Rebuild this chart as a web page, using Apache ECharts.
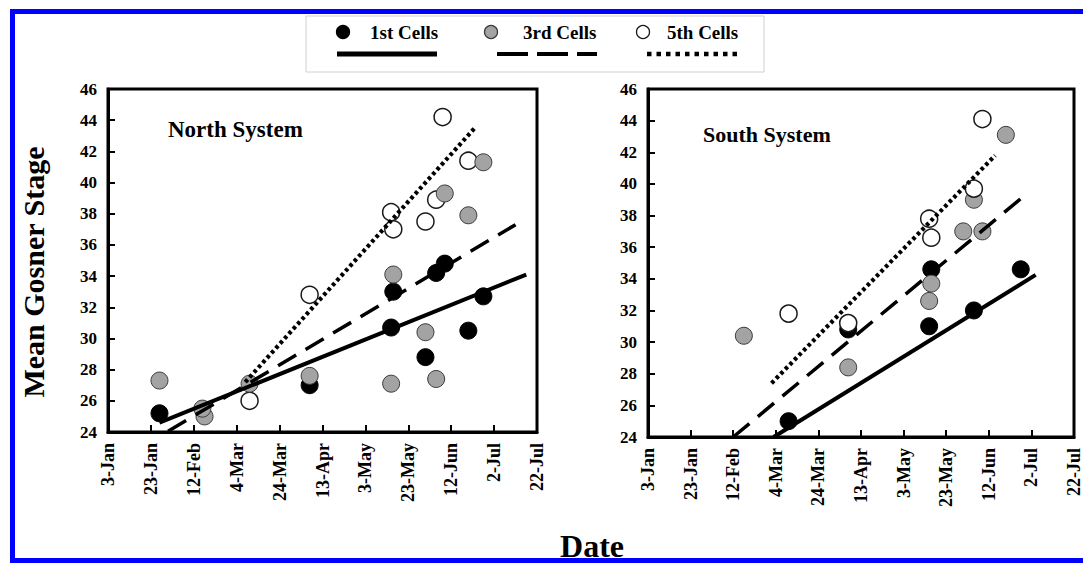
<!DOCTYPE html>
<html>
<head>
<meta charset="utf-8">
<script src="https://cdn.jsdelivr.net/npm/echarts@6/dist/echarts.min.js"></script>
<style>html,body{margin:0;padding:0;background:#fff;}#c{width:1083px;height:563px;}</style>
</head>
<body>
<div id="c"></div>
<script>
// ---- data ----
const tickLabels = ['3-Jan','23-Jan','12-Feb','4-Mar','24-Mar','13-Apr','3-May','23-May','12-Jun','2-Jul','22-Jul'];
const yTicks = { min: 24, max: 46, step: 2 };
const seriesNames = ['1st Cells', '3rd Cells', '5th Cells'];
const panelTitles = ['North System', 'South System'];
const yTitle = 'Mean Gosner Stage';
const xTitle = 'Date';

const northFirst = [['27-Jan',25.2],['7-Apr',27.0],['16-May',33.0],['15-May',30.7],['31-May',28.8],['5-Jun',34.2],['9-Jun',34.8],['20-Jun',30.5],['27-Jun',32.7]];
const northThird = [['27-Jan',27.3],['17-Feb',25.0],['16-Feb',25.5],['10-Mar',27.1],['7-Apr',27.6],['16-May',34.1],['15-May',27.1],['31-May',30.4],['5-Jun',27.4],['9-Jun',39.3],['20-Jun',37.9],['27-Jun',41.3]];
const northFifth = [['10-Mar',26.0],['7-Apr',32.8],['15-May',38.1],['16-May',37.0],['31-May',37.5],['5-Jun',38.9],['8-Jun',44.2],['20-Jun',41.4]];
const northFirstFit = [['27-Jan',24.6],['17-Jul',34.1]];
const northThirdFit = [['31-Jan',24.05],['12-Jul',37.3]];
const northFifthFit = [['8-Mar',27.2],['23-Jun',43.5]];

const southFirst = [['10-Mar',25.0],['7-Apr',30.8],['15-May',31.0],['16-May',34.6],['5-Jun',32.0],['27-Jun',34.6]];
const southThird = [['17-Feb',30.4],['7-Apr',28.4],['15-May',32.6],['16-May',33.7],['31-May',37.0],['5-Jun',39.0],['9-Jun',37.0],['20-Jun',43.1]];
const southFifth = [['10-Mar',31.8],['7-Apr',31.2],['15-May',37.8],['16-May',36.6],['5-Jun',39.7],['9-Jun',44.1]];
const southFirstFit = [['3-Mar',24.0],['4-Jul',34.25]];
const southThirdFit = [['12-Feb',24.0],['30-Jun',39.4]];
const southFifthFit = [['2-Mar',27.4],['15-Jun',41.8]];

// ---- helpers ----
const monthStart = {Jan:0,Feb:31,Mar:59,Apr:90,May:120,Jun:151,Jul:181};
function dayOf(s){ const p = s.split('-'); return monthStart[p[1]] + Number(p[0]) - 3; }
function toXY(arr){ return arr.map(d => [dayOf(d[0]), d[1]]); }

const FONT = '"Liberation Serif", "Times New Roman", serif';
const styles = [
  {color:'#000000', borderColor:'#000000', borderWidth:1, opacity:1},
  {color:'#a3a3a3', borderColor:'#3a3a3a', borderWidth:1, opacity:1},
  {color:'#ffffff', borderColor:'#1a1a1a', borderWidth:1.5, opacity:1}
];
const lineStyles = [
  {color:'#000', width:4, type:'solid', cap:'butt'},
  {color:'#000', width:3.5, type:[21,11], cap:'butt'},
  {color:'#000', width:4.2, type:[3.5,3], cap:'butt'}
];

function scatter(name, data, idx, style, z){
  return {name, type:'scatter', xAxisIndex:idx, yAxisIndex:idx, data:toXY(data),
    symbol:'circle', symbolSize:17, itemStyle:style, z:z, silent:true, animation:false};
}
function fit(name, data, idx, ls){
  return {name, type:'line', xAxisIndex:idx, yAxisIndex:idx, data:toXY(data),
    showSymbol:false, symbol:'none', lineStyle:ls, z:10, silent:true, animation:false};
}
function xAxis(idx){
  return {gridIndex:idx, type:'value', min:0, max:200, interval:20,
    axisLine:{show:true, onZero:false, lineStyle:{color:'#000', width:3}},
    axisTick:{show:true, inside:true, length:7, lineStyle:{color:'#000', width:2}},
    axisLabel:{rotate:90, margin:11, color:'#000', fontFamily:FONT, fontWeight:'bold', fontSize:18,
      formatter: v => tickLabels[Math.round(v/20)] || ''},
    splitLine:{show:false}};
}
function yAxis(idx){
  return {gridIndex:idx, type:'value', min:yTicks.min, max:yTicks.max, interval:yTicks.step,
    axisLine:{show:true, onZero:false, lineStyle:{color:'#000', width:3}},
    axisTick:{show:true, inside:true, length:7, lineStyle:{color:'#000', width:2}},
    axisLabel:{margin:11, color:'#000', fontFamily:FONT, fontWeight:'bold', fontSize:17},
    splitLine:{show:false}};
}

// legend drawn as graphic (two rows: markers+names, then line samples)
const legendGraphic = [
  {type:'rect', shape:{x:306, y:16, width:458, height:56}, style:{fill:'#fff', stroke:'#d0d0d0', lineWidth:1}, z:1},
];
const legX = [343, 491, 643];
const legTextX = [370, 523, 667];
const legLine = [[337,437],[497,597],[647,742]];
const legDash = [null, [31,9], [4.5,5]];
const legW = [5, 4, 4.5];
for (let i = 0; i < 3; i++){
  legendGraphic.push({type:'circle', shape:{cx:legX[i], cy:32, r:6.5}, style:{fill:styles[i].color, stroke:styles[i].borderColor, lineWidth:1.3}, z:2});
  legendGraphic.push({type:'text', x:legTextX[i], y:32, style:{text:seriesNames[i], fill:'#000', font:'bold 19px ' + FONT, textVerticalAlign:'middle', verticalAlign:'middle'}, z:2});
  legendGraphic.push({type:'line', shape:{x1:legLine[i][0], y1:54, x2:legLine[i][1], y2:54}, style:{stroke:'#000', lineWidth:legW[i], lineDash:legDash[i]}, z:2});
}

const option = {
  animation:false,
  backgroundColor:'#fff',
  grid:[
    {left:108, top:89, width:429, height:343, show:true, borderColor:'#000', borderWidth:3, containLabel:false},
    {left:648, top:89, width:433, height:348, show:true, borderColor:'#000', borderWidth:3, containLabel:false}
  ],
  title:[
    {text:panelTitles[0], left:163, top:113, textStyle:{fontFamily:FONT, fontWeight:'bold', fontSize:23, color:'#000'}},
    {text:panelTitles[1], left:698, top:118, textStyle:{fontFamily:FONT, fontWeight:'bold', fontSize:22, color:'#000'}}
  ],
  xAxis:[xAxis(0), xAxis(1)],
  yAxis:[yAxis(0), yAxis(1)],
  graphic:[
    {type:'rect', shape:{x:10, y:9, width:1073, height:5}, style:{fill:'#0000ff'}, z:100},
    {type:'rect', shape:{x:10, y:9, width:5, height:554}, style:{fill:'#0000ff'}, z:100},
    {type:'rect', shape:{x:10, y:558, width:1073, height:5}, style:{fill:'#0000ff'}, z:100},
    {type:'text', x:592, y:546, style:{text:xTitle, fill:'#000', font:'bold 32px ' + FONT, textAlign:'center', align:'center', textVerticalAlign:'middle', verticalAlign:'middle'}, z:50},
    {type:'text', x:33, y:272, rotation:Math.PI/2, style:{text:yTitle, fill:'#000', font:'bold 30px ' + FONT, textAlign:'center', align:'center', textVerticalAlign:'middle', verticalAlign:'middle'}, z:50},
    ...legendGraphic
  ],
  series:[
    scatter(seriesNames[0], northFirst, 0, styles[0], 2),
    scatter(seriesNames[2], northFifth, 0, styles[2], 3),
    scatter(seriesNames[1], northThird, 0, styles[1], 4),
    fit(seriesNames[0] + ' fit', northFirstFit, 0, lineStyles[0]),
    fit(seriesNames[1] + ' fit', northThirdFit, 0, lineStyles[1]),
    fit(seriesNames[2] + ' fit', northFifthFit, 0, lineStyles[2]),
    scatter(seriesNames[0], southFirst, 1, styles[0], 2),
    scatter(seriesNames[1], southThird, 1, styles[1], 3),
    scatter(seriesNames[2], southFifth, 1, styles[2], 4),
    fit(seriesNames[0] + ' fit', southFirstFit, 1, lineStyles[0]),
    fit(seriesNames[1] + ' fit', southThirdFit, 1, lineStyles[1]),
    fit(seriesNames[2] + ' fit', southFifthFit, 1, lineStyles[2])
  ]
};
const chart = echarts.init(document.getElementById('c'), null, {renderer:'svg'});
chart.setOption(option);
</script>
</body>
</html>
